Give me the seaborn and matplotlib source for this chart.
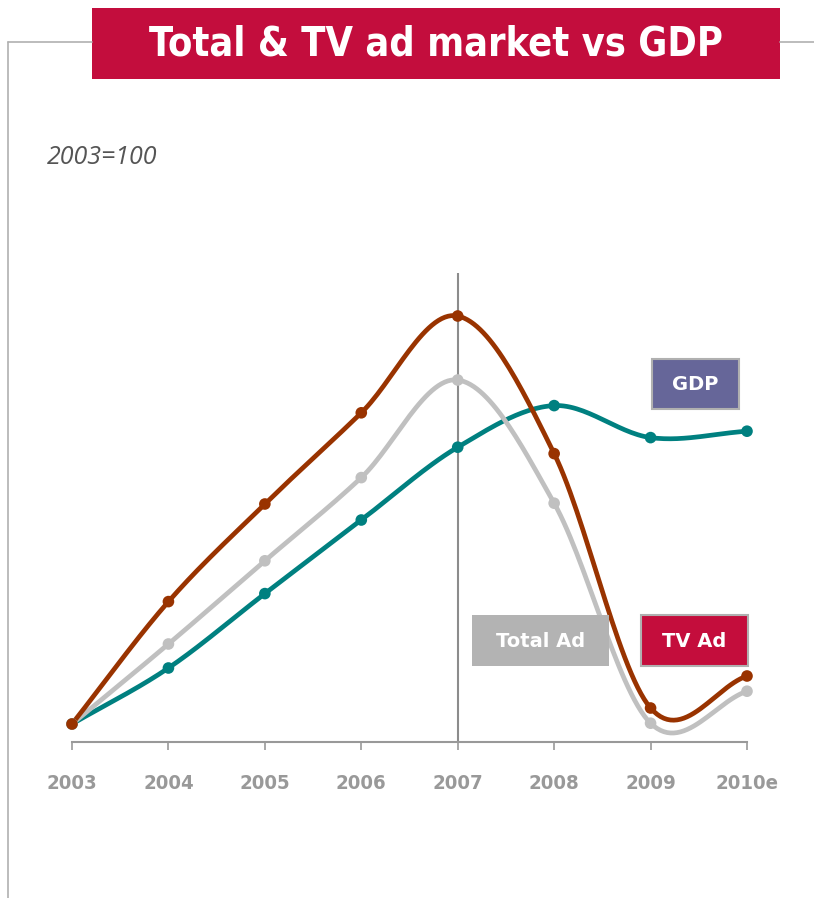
import numpy as np
import pandas as pd
import matplotlib
matplotlib.use("Agg")
import matplotlib.pyplot as plt
import matplotlib.font_manager as fm
import seaborn as sns
from matplotlib.patches import Rectangle
from matplotlib.lines import Line2D

# ---- data (index, 2003 = 100) ----
years = ["2003", "2004", "2005", "2006", "2007", "2008", "2009", "2010e"]
tv_ad = [100.0, 115.3, 127.5, 138.9, 151.0, 133.8, 102.0, 106.0]
total_ad = [100.0, 110.0, 120.4, 130.8, 143.0, 127.6, 100.1, 104.1]
gdp = [100.0, 107.0, 116.3, 125.5, 134.6, 139.8, 135.8, 136.6]

series_names = ["TV Ad", "Total Ad", "GDP"]
series_values = [tv_ad, total_ad, gdp]
series_colors = {"TV Ad": "#993300", "Total Ad": "#c0c0c0", "GDP": "#008080"}

W, H = 814, 898
sns.set_theme(style="white")
plt.rcParams["font.family"] = ["DejaVu Sans"]

def pick_condensed_bold():
    for f in fm.fontManager.ttflist:
        name = f.name.lower()
        w = f.weight if isinstance(f.weight, int) else 700 if "bold" in str(f.weight) else 400
        cond = ("narrow" in name or "condensed" in name or
                str(f.stretch) in ("condensed", "semi-condensed", "extra-condensed") or
                (isinstance(f.stretch, int) and f.stretch < 500))
        if cond and w >= 600 and "italic" not in str(f.style) and "oblique" not in str(f.style):
            return fm.FontProperties(fname=f.fname)
    for fam in ["Lato", "Roboto", "DejaVu Sans"]:
        try:
            p = fm.FontProperties(family=fam, weight="bold")
            fm.findfont(p, fallback_to_default=False)
            return p
        except Exception:
            continue
    return fm.FontProperties(weight="bold")

cond_fp = pick_condensed_bold()

fig = plt.figure(figsize=(W / 100, H / 100), dpi=100)
renderer = fig.canvas.get_renderer()

def fx(px):
    return px / W

def fy(py):
    return 1 - py / H

def fit_size(text, target_px, size0=20):
    t = fig.text(0.5, 0.5, text, fontproperties=cond_fp)
    t.set_fontsize(size0)
    w = t.get_window_extent(renderer=renderer).width
    t.remove()
    return size0 * target_px / w

ax_left, ax_right, ax_top, ax_bottom = 72, 747, 273, 742
ax = fig.add_axes([fx(ax_left), fy(ax_bottom), fx(ax_right) - fx(ax_left), fy(ax_top) - fy(ax_bottom)])
ax.set_facecolor("none")

x = np.arange(len(years))

def bezier_smooth(xs, ys, n=30):
    xs = np.asarray(xs, float)
    ys = np.asarray(ys, float)
    px = np.concatenate([[2 * xs[0] - xs[1]], xs, [2 * xs[-1] - xs[-2]]])
    py = np.concatenate([[ys[0] - (ys[1] - ys[0])], ys, [ys[-1] + (ys[-1] - ys[-2])]])
    outx, outy = [], []
    for i in range(1, len(px) - 2):
        p0, p1, p2, p3 = py[i - 1], py[i], py[i + 1], py[i + 2]
        q0, q1, q2, q3 = px[i - 1], px[i], px[i + 1], px[i + 2]
        c1y = p1 + (p2 - p0) / 6
        c2y = p2 - (p3 - p1) / 6
        c1x = q1 + (q2 - q0) / 6
        c2x = q2 - (q3 - q1) / 6
        t = np.linspace(0, 1, n, endpoint=(i == len(px) - 3))
        bx = (1 - t) ** 3 * q1 + 3 * (1 - t) ** 2 * t * c1x + 3 * (1 - t) * t ** 2 * c2x + t ** 3 * q2
        by = (1 - t) ** 3 * p1 + 3 * (1 - t) ** 2 * t * c1y + 3 * (1 - t) * t ** 2 * c2y + t ** 3 * p2
        outx.append(bx)
        outy.append(by)
    return np.concatenate(outx), np.concatenate(outy)

order = ["GDP", "Total Ad", "TV Ad"]
vals = dict(zip(series_names, series_values))
for name in order:
    sx, sy = bezier_smooth(x, vals[name])
    ax.plot(sx, sy, color=series_colors[name], lw=3.4, solid_capstyle="round",
            solid_joinstyle="round", zorder=2, clip_on=False)

ax.axvline(4, color="#8c8c8c", lw=1.5, zorder=2.5)

df = pd.DataFrame({
    "x": np.tile(x, 3),
    "value": np.concatenate([vals[n] for n in order]),
    "series": np.repeat(order, len(x)),
})
sns.scatterplot(data=df, x="x", y="value", hue="series", palette=series_colors,
                hue_order=order, s=70, edgecolor="none", legend=False, ax=ax,
                zorder=3, clip_on=False)

tsize = fit_size("2003", 51)

ax.set_xlim(0, 7)
ax.set_ylim(97.75, 156.375)
ax.set_xticks(x)
ax.set_xticklabels(years, fontproperties=cond_fp, fontsize=tsize, color="#999999")
ax.set_yticks([])
ax.set_xlabel("")
ax.set_ylabel("")
for s in ["left", "right", "top"]:
    ax.spines[s].set_visible(False)
ax.spines["bottom"].set_color("#999999")
ax.spines["bottom"].set_linewidth(1.5)
ax.tick_params(axis="x", direction="out", length=6, width=1.2, color="#999999",
               pad=17, bottom=True)

frame_c = "#b0b0b0"
fig.add_artist(Line2D([fx(8), fx(92)], [fy(42), fy(42)], color=frame_c, lw=1.2))
fig.add_artist(Line2D([fx(780), fx(814)], [fy(42), fy(42)], color=frame_c, lw=1.2))
fig.add_artist(Line2D([fx(8), fx(8)], [fy(42), fy(898)], color=frame_c, lw=1.2))

fig.add_artist(Rectangle((fx(92), fy(79)), fx(780) - fx(92), fy(8) - fy(79),
                         facecolor="#c30d3d", edgecolor="none"))
fig.text(fx(436), fy(44), "Total & TV ad market vs GDP", color="white",
         ha="center", va="center", fontproperties=cond_fp,
         fontsize=fit_size("Total & TV ad market vs GDP", 574))

fig.text(fx(47), fy(157), "2003=100", color="#555555", fontsize=18, style="italic",
         ha="left", va="center", family=["Open Sans", "DejaVu Sans"])

def label_box(x0, y0, x1, y1, text, fc, ec):
    fig.add_artist(Rectangle((fx(x0), fy(y1)), fx(x1) - fx(x0), fy(y0) - fy(y1),
                             facecolor=fc, edgecolor=ec, lw=1.5))
    fig.text(fx((x0 + x1) / 2), fy((y0 + y1) / 2 + 1), text, color="white",
             fontsize=14, fontweight="bold", ha="center", va="center")

label_box(472, 615, 609, 666, "Total Ad", "#b3b3b3", "none")
label_box(641, 615, 748, 666, "TV Ad", "#c40d3c", "#b0b0b0")
label_box(652, 359, 739, 409, "GDP", "#666699", "#b0b0b0")

fig.savefig("out.png", dpi=100)
